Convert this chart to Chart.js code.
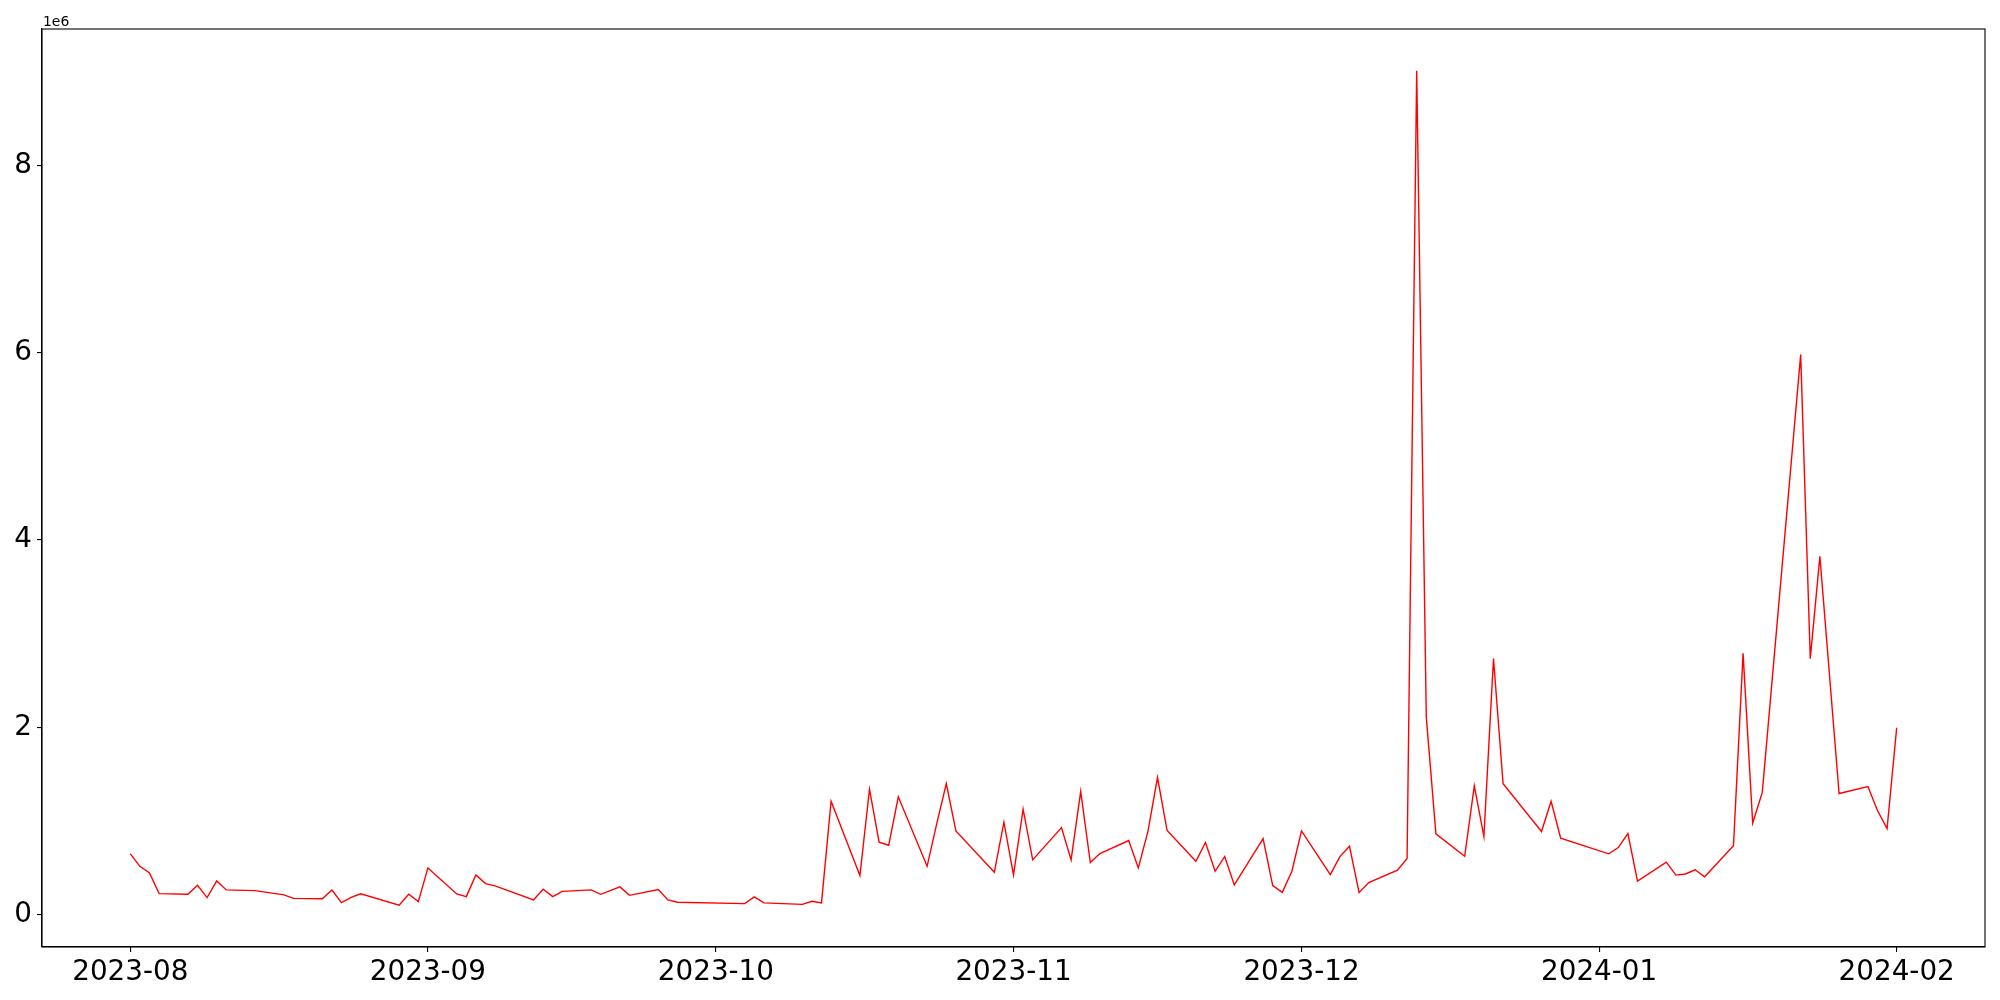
<!DOCTYPE html>
<html>
<head>
<meta charset="utf-8">
<script src="https://cdn.jsdelivr.net/npm/chart.js@4.4.1/dist/chart.umd.min.js"></script>
<style>
  html, body { margin: 0; padding: 0; background: #fff; }
  canvas { display: block; }
</style>
</head>
<body>
<canvas id="chart" width="2000" height="1000"></canvas>
<script>
const dates = [
  '2023-08-01','2023-08-02','2023-08-03','2023-08-04','2023-08-07','2023-08-08','2023-08-09','2023-08-10',
  '2023-08-11','2023-08-14','2023-08-17','2023-08-18','2023-08-21','2023-08-22','2023-08-23','2023-08-24',
  '2023-08-25','2023-08-29','2023-08-30','2023-08-31','2023-09-01','2023-09-04','2023-09-05','2023-09-06',
  '2023-09-07','2023-09-08','2023-09-12','2023-09-13','2023-09-14','2023-09-15','2023-09-18','2023-09-19',
  '2023-09-21','2023-09-22','2023-09-25','2023-09-26','2023-09-27','2023-10-04','2023-10-05','2023-10-06',
  '2023-10-10','2023-10-11','2023-10-12','2023-10-13','2023-10-16','2023-10-17','2023-10-18','2023-10-19',
  '2023-10-20','2023-10-23','2023-10-24','2023-10-25','2023-10-26','2023-10-30','2023-10-31','2023-11-01',
  '2023-11-02','2023-11-03','2023-11-06','2023-11-07','2023-11-08','2023-11-09','2023-11-10','2023-11-13',
  '2023-11-14','2023-11-15','2023-11-16','2023-11-17','2023-11-20','2023-11-21','2023-11-22','2023-11-23',
  '2023-11-24','2023-11-27','2023-11-28','2023-11-29','2023-11-30','2023-12-01','2023-12-04','2023-12-05',
  '2023-12-06','2023-12-07','2023-12-08','2023-12-11','2023-12-12','2023-12-13','2023-12-14','2023-12-15',
  '2023-12-18','2023-12-19','2023-12-20','2023-12-21','2023-12-22','2023-12-26','2023-12-27','2023-12-28',
  '2024-01-02','2024-01-03','2024-01-04','2024-01-05','2024-01-08','2024-01-09','2024-01-10','2024-01-11',
  '2024-01-12','2024-01-15','2024-01-16','2024-01-17','2024-01-18','2024-01-22','2024-01-23','2024-01-24',
  '2024-01-26','2024-01-29','2024-01-30','2024-01-31','2024-02-01'
]

const values = [
  649000, 516000, 445000, 224000, 217000, 313000, 182000, 360000,
  264000, 256000, 211000, 174000, 170000, 262000, 128000, 185000,
  222000, 100000, 217000, 139000, 499000, 221000, 192000, 424000,
  331000, 307000, 157000, 271000, 192000, 249000, 264000, 217000,
  296000, 206000, 267000, 157000, 132000, 118000, 190000, 125000,
  110000, 142000, 125000, 1211000, 417000, 1339000, 773000, 741000,
  1258000, 516000, 969000, 1400000, 894000, 452000, 987000, 424000,
  1126000, 585000, 930000, 585000, 1315000, 556000, 652000, 791000,
  499000, 887000, 1464000, 898000, 570000, 770000, 463000, 620000,
  317000, 812000, 310000, 238000, 463000, 894000, 428000, 620000,
  730000, 235000, 342000, 474000, 599000, 9010000, 2109000, 862000,
  623000, 1375000, 834000, 2733000, 1397000, 887000, 1211000, 816000,
  649000, 716000, 866000, 357000, 561000, 422000, 434000, 479000,
  405000, 736000, 2790000, 978000, 1305000, 5979000, 2733000, 3825000,
  1293000, 1368000, 1112000, 919000, 1995000
]

const xTickLabels = ['2023-08', '2023-09', '2023-10', '2023-11', '2023-12', '2024-01', '2024-02']
const yTicks = [0, 2000000, 4000000, 6000000, 8000000]

// x is measured in days since the first tick
const origin = Date.parse(xTickLabels[0] + '-01T00:00:00Z')
const dayOf = s => (Date.parse(s + 'T00:00:00Z') - origin) / 86400000
const xTickDays = xTickLabels.map(l => dayOf(l + '-01'))

const xFirst = dayOf(dates[0]), xLast = dayOf(dates[dates.length - 1])
const xPad = (xLast - xFirst) * 0.05
const yMin = Math.min(...values), yMax = Math.max(...values)
const yPad = (yMax - yMin) * 0.05

const tickFont = { family: 'DejaVu Sans', size: 27.8 }

const framePlugin = {
  id: 'frame',
  afterDraw(chart) {
    const { ctx, chartArea: a } = chart
    ctx.save()
    ctx.strokeStyle = '#000'
    ctx.lineWidth = 1.1
    ctx.strokeRect(a.left, a.top, a.right - a.left, a.bottom - a.top)
    ctx.fillStyle = '#000'
    ctx.font = '13.9px "DejaVu Sans"'
    ctx.textBaseline = 'alphabetic'
    ctx.fillText('1e6', a.left + 1, a.top - 3)
    ctx.restore()
  }
}

new Chart(document.getElementById('chart'), {
  type: 'line',
  data: {
    datasets: [{
      data: dates.map((d, i) => ({ x: dayOf(d), y: values[i] })),
      borderColor: '#ff0000',
      borderWidth: 1.4,
      pointRadius: 0,
      tension: 0,
      fill: false
    }]
  },
  options: {
    responsive: false,
    animation: false,
    devicePixelRatio: 1,
    layout: { padding: { left: 0, right: 15, top: 29, bottom: 0 } },
    plugins: { legend: { display: false }, tooltip: { enabled: false } },
    scales: {
      x: {
        type: 'linear',
        min: xFirst - xPad,
        max: xLast + xPad,
        afterBuildTicks: s => { s.ticks = xTickDays.map(v => ({ value: v })) },
        afterFit: s => { s.height = 53 },
        grid: { drawOnChartArea: false, drawTicks: true, tickLength: 5, color: '#000', lineWidth: 1.1 },
        border: { display: true, color: '#000', width: 1.1 },
        ticks: {
          autoSkip: false, maxRotation: 0, padding: 4,
          color: '#000', font: tickFont,
          callback: (v, i) => xTickLabels[i]
        }
      },
      y: {
        type: 'linear',
        min: yMin - yPad,
        max: yMax + yPad,
        afterBuildTicks: s => { s.ticks = yTicks.map(v => ({ value: v })) },
        afterFit: s => { s.width = 42 },
        grid: { drawOnChartArea: false, drawTicks: true, tickLength: 5, color: '#000', lineWidth: 1.1 },
        border: { display: true, color: '#000', width: 1.1 },
        ticks: {
          padding: 5, color: '#000', font: tickFont,
          callback: v => String(v / 1000000)
        }
      }
    }
  },
  plugins: [framePlugin]
})
</script>
</body>
</html>
